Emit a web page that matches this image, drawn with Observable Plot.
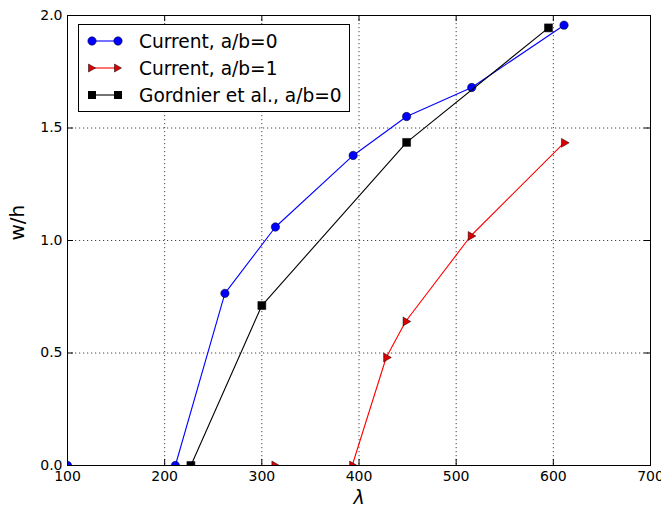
<!DOCTYPE html>
<html><head><meta charset="utf-8">
<script src="https://cdn.jsdelivr.net/npm/d3@7"></script>
<script src="https://cdn.jsdelivr.net/npm/@observablehq/plot@0.6"></script>
<style>
body{margin:0;background:#fff;font-family:"DejaVu Sans",sans-serif;}
#wrap{position:relative;width:661px;height:510px;overflow:hidden;}
#legend{position:absolute;left:78px;top:24px;width:272px;height:88px;border:1px solid #000;background:#fff;box-sizing:border-box;}
#legend .row{position:absolute;left:0;height:20px;display:flex;align-items:center;}
#legend .row span{font-size:18.6px;color:#000;margin-left:16px;white-space:nowrap;}
</style></head><body>
<div id="wrap"><div id="chart"></div><div id="legend"></div></div>
<script>
// Data
const seriesNames = ["Current, a/b=0", "Current, a/b=1", "Gordnier et al., a/b=0"];
const blueLambda = [100, 211, 262, 314, 394, 449, 516, 611];
const blueW      = [0, 0, 0.765, 1.06, 1.378, 1.551, 1.68, 1.957];
const redLambda  = [313, 393, 428, 448, 515, 611];
const redW       = [0, 0, 0.48, 0.64, 1.02, 1.434];
const blackLambda = [227, 300, 449, 595];
const blackW      = [0, 0.711, 1.436, 1.945];
const xTicks = [100, 200, 300, 400, 500, 600, 700];
const yTicks = [0, 0.5, 1.0, 1.5, 2.0];

const blue = blueLambda.map((x, i) => ({x, y: blueW[i]}));
const red = redLambda.map((x, i) => ({x, y: redW[i]}));
const black = blackLambda.map((x, i) => ({x, y: blackW[i]}));

const gridStyle = {stroke: "#444", strokeWidth: 1, strokeDasharray: "1.2,2.8"};
const tx = 6.2, ty = 0.027; // inward tick lengths (≈6px) in data units

const plot = Plot.plot({
  width: 661, height: 510,
  marginLeft: 67, marginRight: 11, marginTop: 15, marginBottom: 45,
  x: {domain: [100, 700]},
  y: {domain: [0, 2]},
  style: {fontFamily: "DejaVu Sans", fontSize: "14px", color: "#000", background: "#fff"},
  marks: [
    Plot.ruleX(xTicks.slice(1, -1), {...gridStyle}),
    Plot.ruleY(yTicks.slice(1, -1), {...gridStyle}),
    Plot.axisX(xTicks, {tickSize: 0, tickPadding: 6, tickFormat: d => String(d), label: null, fontSize: 14}),
    Plot.axisY(yTicks, {tickSize: 0, tickPadding: 5, tickFormat: d => d.toFixed(1), label: null, fontSize: 14}),
    Plot.ruleX(xTicks, {y1: 0, y2: ty, stroke: "#000"}),
    Plot.ruleX(xTicks, {y1: 2, y2: 2 - ty, stroke: "#000"}),
    Plot.ruleY(yTicks, {x1: 100, x2: 100 + tx, stroke: "#000"}),
    Plot.ruleY(yTicks, {x1: 700, x2: 700 - tx, stroke: "#000"}),
    Plot.line(blue, {x: "x", y: "y", stroke: "#0000ff", strokeWidth: 1.1}),
    Plot.dot(blue, {x: "x", y: "y", r: 4.2, fill: "#0000ff", stroke: "#000", strokeWidth: 0.5, clip: true}),
    Plot.line(red, {x: "x", y: "y", stroke: "#ff0000", strokeWidth: 1.1}),
    Plot.dot(red, {x: "x", y: "y", symbol: "triangle", rotate: 90, r: 3.3, fill: "#dd0000", stroke: "#000", strokeWidth: 0.5, clip: true}),
    Plot.line(black, {x: "x", y: "y", stroke: "#000", strokeWidth: 1.1}),
    Plot.dot(black, {x: "x", y: "y", symbol: "square", r: 4.5, fill: "#000", stroke: "#000", strokeWidth: 0.5, clip: true}),
    Plot.frame({stroke: "#000", strokeWidth: 1}),
    Plot.text(["λ"], {frameAnchor: "bottom", dy: 38, fontSize: 19, fontStyle: "italic"}),
    Plot.text(["w/h"], {frameAnchor: "left", dx: -50, rotate: -90, fontSize: 20})
  ]
});
document.getElementById("chart").appendChild(plot);

// Legend
const legend = document.getElementById("legend");
const legendSym = [
  `<line x1="13" y1="10" x2="39" y2="10" stroke="#0000ff" stroke-width="1.1"/><circle cx="13" cy="10" r="4.2" fill="#0000ff" stroke="#000" stroke-width="0.5"/><circle cx="39" cy="10" r="4.2" fill="#0000ff" stroke="#000" stroke-width="0.5"/>`,
  `<line x1="13" y1="10" x2="39" y2="10" stroke="#ff0000" stroke-width="1.1"/><path d="M9.5,6 L16.5,10 L9.5,14 Z" fill="#dd0000" stroke="#000" stroke-width="0.5"/><path d="M35.5,6 L42.5,10 L35.5,14 Z" fill="#dd0000" stroke="#000" stroke-width="0.5"/>`,
  `<line x1="13" y1="10" x2="39" y2="10" stroke="#000" stroke-width="1.1"/><rect x="9" y="6" width="8" height="8" fill="#000"/><rect x="35" y="6" width="8" height="8" fill="#000"/>`
];
const rowTops = [6, 33, 60];
seriesNames.forEach((name, i) => {
  const row = document.createElement("div");
  row.className = "row";
  row.style.top = rowTops[i] + "px";
  row.innerHTML = `<svg width="44" height="20">${legendSym[i]}</svg><span>${name}</span>`;
  legend.appendChild(row);
});
</script>
</body></html>
